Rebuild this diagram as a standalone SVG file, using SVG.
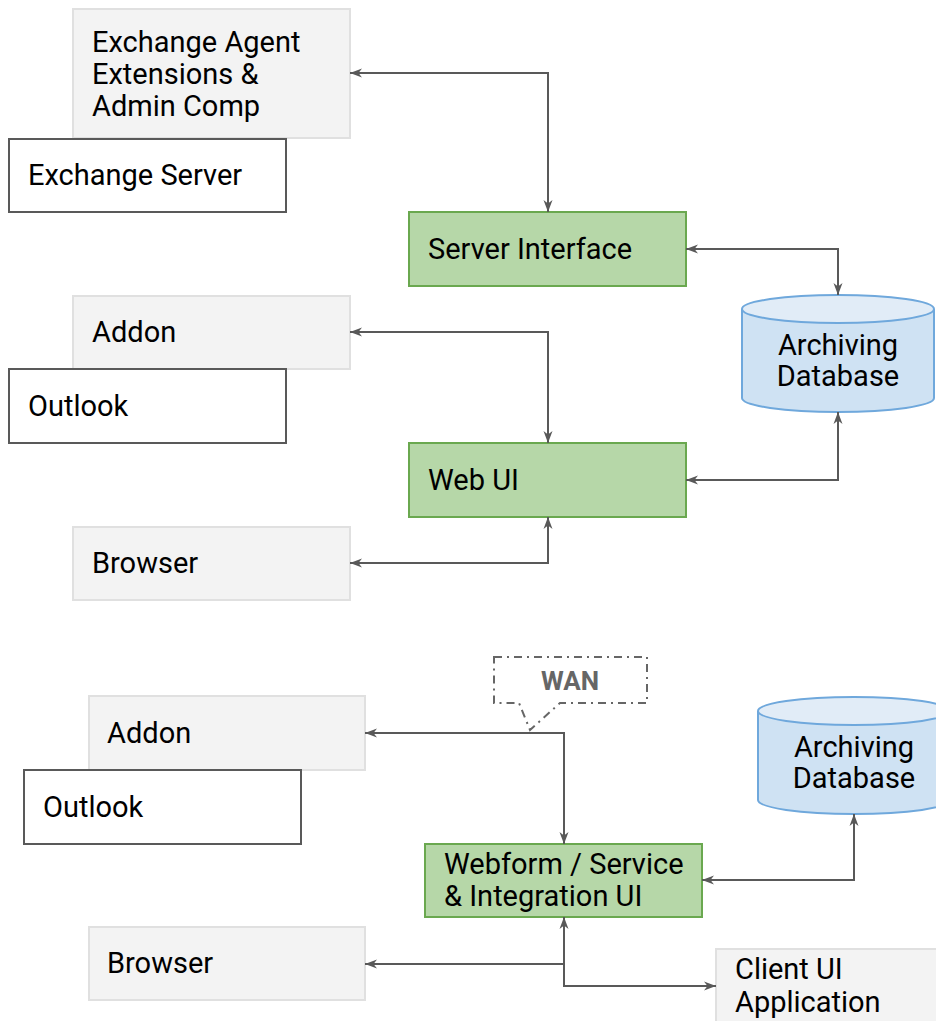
<svg xmlns="http://www.w3.org/2000/svg" width="936" height="1021" viewBox="0 0 936 1021">
<style>
  text { font-family: Roboto, "Liberation Sans", sans-serif; font-size: 29px; fill: #000; }
  .gray { fill: #f3f3f3; stroke: #e0e0e0; stroke-width: 2; }
  .white { fill: #ffffff; stroke: #595959; stroke-width: 2; }
  .green { fill: #b6d7a8; stroke: #6aa84f; stroke-width: 2; }
  .dbbody { fill: #cfe2f3; stroke: #6fa8dc; stroke-width: 2; }
  .dbtop { fill: #e1ecf7; stroke: #6fa8dc; stroke-width: 2; }
  .conn { fill: none; stroke: #595959; stroke-width: 2; }
  .callout { fill: #ffffff; stroke: #666666; stroke-width: 2; stroke-dasharray: 8 5 2 5; }
  .wan { font-weight: bold; fill: #666666; font-size: 26px; }
  .mid { text-anchor: middle; }
</style>
<defs>
  <marker id="arr" viewBox="0 0 12 10" refX="12" refY="5" markerWidth="12" markerHeight="10" markerUnits="userSpaceOnUse" orient="auto-start-reverse">
    <path d="M0,0.5 L12,5 L0,9.5 L3.5,5 Z" fill="#595959"/>
  </marker>
</defs>

<g id="exchange-agent">
  <rect class="gray" x="73" y="9" width="277" height="129"/>
  <text x="92" y="52">Exchange Agent</text>
  <text x="92" y="84">Extensions &amp;</text>
  <text x="92" y="116">Admin Comp</text>
</g>
<g id="exchange-server">
  <rect class="white" x="9" y="139" width="277" height="73"/>
  <text x="28" y="185">Exchange Server</text>
</g>
<g id="server-interface">
  <rect class="green" x="409" y="212" width="277" height="74"/>
  <text x="428" y="259">Server Interface</text>
</g>
<g id="archiving-db-1">
  <path class="dbbody" d="M742,309 V398 A96,14 0 0 0 934,398 V309"/>
  <ellipse class="dbtop" cx="838" cy="309" rx="96" ry="14"/>
  <text class="mid" x="838" y="355">Archiving</text>
  <text class="mid" x="838" y="386">Database</text>
</g>
<g id="addon-1">
  <rect class="gray" x="73" y="296" width="277" height="73"/>
  <text x="92" y="342">Addon</text>
</g>
<g id="outlook-1">
  <rect class="white" x="9" y="369" width="277" height="74"/>
  <text x="28" y="416">Outlook</text>
</g>
<g id="web-ui">
  <rect class="green" x="409" y="443" width="277" height="74"/>
  <text x="428" y="490">Web UI</text>
</g>
<g id="browser-1">
  <rect class="gray" x="73" y="527" width="277" height="73"/>
  <text x="92" y="573">Browser</text>
</g>

<g id="wan-callout">
  <path class="callout" d="M494,657 H647 V703 H560 L530,730 L519,703 H494 Z"/>
  <text class="wan mid" x="570" y="690">WAN</text>
</g>
<g id="addon-2">
  <rect class="gray" x="89" y="696" width="276" height="74"/>
  <text x="107" y="743">Addon</text>
</g>
<g id="outlook-2">
  <rect class="white" x="24" y="770" width="277" height="74"/>
  <text x="43" y="817">Outlook</text>
</g>
<g id="webform">
  <rect class="green" x="425" y="844" width="277" height="73"/>
  <text x="444" y="874">Webform / Service</text>
  <text x="444" y="906">&amp; Integration UI</text>
</g>
<g id="browser-2">
  <rect class="gray" x="89" y="927" width="276" height="73"/>
  <text x="107" y="973">Browser</text>
</g>
<g id="client-ui">
  <rect class="gray" x="716" y="949" width="240" height="90"/>
  <text x="735" y="979">Client UI</text>
  <text x="735" y="1012">Application</text>
</g>
<g id="archiving-db-2">
  <path class="dbbody" d="M758,711 V800 A96,14 0 0 0 950,800 V711"/>
  <ellipse class="dbtop" cx="854" cy="711" rx="96" ry="14"/>
  <text class="mid" x="854" y="757">Archiving</text>
  <text class="mid" x="854" y="788">Database</text>
</g>

<g id="connectors">
  <path class="conn" marker-start="url(#arr)" marker-end="url(#arr)" d="M548,212 V73 H350"/>
  <path class="conn" marker-start="url(#arr)" marker-end="url(#arr)" d="M686,249 H838 V295"/>
  <path class="conn" marker-start="url(#arr)" marker-end="url(#arr)" d="M548,443 V332 H350"/>
  <path class="conn" marker-start="url(#arr)" marker-end="url(#arr)" d="M686,480 H838 V412"/>
  <path class="conn" marker-start="url(#arr)" marker-end="url(#arr)" d="M548,517 V563 H350"/>
  <path class="conn" marker-start="url(#arr)" marker-end="url(#arr)" d="M564,844 V733 H365"/>
  <path class="conn" marker-start="url(#arr)" marker-end="url(#arr)" d="M702,880 H854 V814"/>
  <path class="conn" marker-start="url(#arr)" marker-end="url(#arr)" d="M564,917 V964 H365"/>
  <path class="conn" marker-end="url(#arr)" d="M564,964 V986 H716"/>
</g>
</svg>
